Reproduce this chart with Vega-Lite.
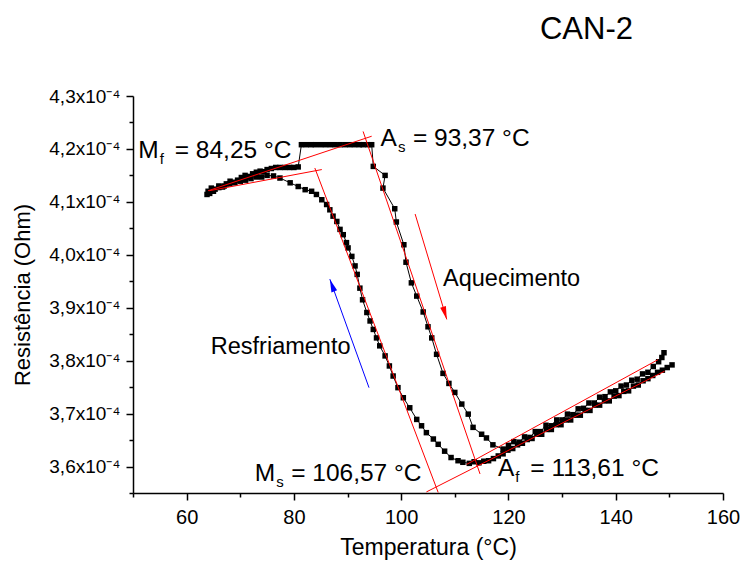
{
  "$schema": "https://vega.github.io/schema/vega-lite/v6.json",
  "width": 590,
  "height": 397,
  "autosize": {"type": "none"},
  "padding": {"left": 133, "top": 96, "right": 18, "bottom": 72},
  "background": "white",
  "config": {"view": {"stroke": null}, "font": "Liberation Sans"},
  "title": {"text": "CAN-2", "anchor": "end", "frame": "group", "dx": -90, "fontSize": 31, "fontWeight": "normal", "color": "black", "offset": 17, "baseline": "alphabetic", "font": "Liberation Sans"},
  "datasets": {
    "curves": [
      {"s":"aq","i":0,"t":64.0,"r":4.120e-4},{"s":"aq","i":1,"t":64.6,"r":4.126e-4},{"s":"aq","i":2,"t":65.3,"r":4.124e-4},{"s":"aq","i":3,"t":66.0,"r":4.130e-4},
      {"s":"aq","i":4,"t":66.7,"r":4.128e-4},{"s":"aq","i":5,"t":67.4,"r":4.134e-4},{"s":"aq","i":6,"t":68.1,"r":4.139e-4},{"s":"aq","i":7,"t":68.8,"r":4.136e-4},
      {"s":"aq","i":8,"t":69.5,"r":4.141e-4},{"s":"aq","i":9,"t":70.2,"r":4.146e-4},{"s":"aq","i":10,"t":70.9,"r":4.150e-4},{"s":"aq","i":11,"t":71.6,"r":4.148e-4},
      {"s":"aq","i":12,"t":72.3,"r":4.153e-4},{"s":"aq","i":13,"t":73.0,"r":4.156e-4},{"s":"aq","i":14,"t":73.7,"r":4.158e-4},{"s":"aq","i":15,"t":74.4,"r":4.157e-4},
      {"s":"aq","i":16,"t":75.0,"r":4.161e-4},{"s":"aq","i":17,"t":75.8,"r":4.163e-4},{"s":"aq","i":18,"t":76.6,"r":4.165e-4},{"s":"aq","i":19,"t":77.4,"r":4.165e-4},
      {"s":"aq","i":20,"t":78.3,"r":4.165e-4},{"s":"aq","i":21,"t":79.2,"r":4.165e-4},{"s":"aq","i":22,"t":80.0,"r":4.165e-4},{"s":"aq","i":23,"t":80.8,"r":4.166e-4},
      {"s":"aq","i":24,"t":81.4,"r":4.208e-4},{"s":"aq","i":25,"t":82.3,"r":4.208e-4},{"s":"aq","i":26,"t":83.2,"r":4.208e-4},{"s":"aq","i":27,"t":84.0,"r":4.208e-4},
      {"s":"aq","i":28,"t":85.0,"r":4.208e-4},{"s":"aq","i":29,"t":85.9,"r":4.208e-4},{"s":"aq","i":30,"t":86.8,"r":4.208e-4},{"s":"aq","i":31,"t":87.7,"r":4.208e-4},
      {"s":"aq","i":32,"t":88.6,"r":4.208e-4},{"s":"aq","i":33,"t":89.5,"r":4.208e-4},{"s":"aq","i":34,"t":90.4,"r":4.208e-4},{"s":"aq","i":35,"t":91.3,"r":4.208e-4},
      {"s":"aq","i":36,"t":92.2,"r":4.208e-4},{"s":"aq","i":37,"t":92.9,"r":4.208e-4},{"s":"aq","i":38,"t":93.8,"r":4.208e-4},{"s":"aq","i":39,"t":94.5,"r":4.208e-4},
      {"s":"aq","i":40,"t":94.8,"r":4.167e-4},{"s":"aq","i":41,"t":97.0,"r":4.150e-4},{"s":"aq","i":42,"t":96.6,"r":4.126e-4},{"s":"aq","i":43,"t":98.8,"r":4.087e-4},
      {"s":"aq","i":44,"t":99.1,"r":4.062e-4},{"s":"aq","i":45,"t":100.5,"r":4.019e-4},{"s":"aq","i":46,"t":100.9,"r":3.986e-4},{"s":"aq","i":47,"t":101.9,"r":3.947e-4},
      {"s":"aq","i":48,"t":102.9,"r":3.922e-4},{"s":"aq","i":49,"t":104.1,"r":3.892e-4},{"s":"aq","i":50,"t":105.0,"r":3.864e-4},{"s":"aq","i":51,"t":105.7,"r":3.843e-4},
      {"s":"aq","i":52,"t":106.6,"r":3.812e-4},{"s":"aq","i":53,"t":107.8,"r":3.776e-4},{"s":"aq","i":54,"t":108.9,"r":3.757e-4},{"s":"aq","i":55,"t":110.0,"r":3.740e-4},
      {"s":"aq","i":56,"t":111.3,"r":3.718e-4},{"s":"aq","i":57,"t":112.5,"r":3.699e-4},{"s":"aq","i":58,"t":113.4,"r":3.674e-4},{"s":"aq","i":59,"t":115.0,"r":3.661e-4},
      {"s":"aq","i":60,"t":115.9,"r":3.654e-4},{"s":"aq","i":61,"t":117.1,"r":3.641e-4},{"s":"aq","i":62,"t":119.0,"r":3.633e-4},{"s":"aq","i":63,"t":120.0,"r":3.640e-4},
      {"s":"aq","i":64,"t":121.0,"r":3.647e-4},{"s":"aq","i":65,"t":122.0,"r":3.646e-4},{"s":"aq","i":66,"t":123.0,"r":3.656e-4},{"s":"aq","i":67,"t":124.0,"r":3.655e-4},
      {"s":"aq","i":68,"t":125.0,"r":3.666e-4},{"s":"aq","i":69,"t":126.0,"r":3.666e-4},{"s":"aq","i":70,"t":127.0,"r":3.678e-4},{"s":"aq","i":71,"t":128.0,"r":3.677e-4},
      {"s":"aq","i":72,"t":129.0,"r":3.688e-4},{"s":"aq","i":73,"t":130.0,"r":3.688e-4},{"s":"aq","i":74,"t":131.0,"r":3.699e-4},{"s":"aq","i":75,"t":132.0,"r":3.698e-4},
      {"s":"aq","i":76,"t":133.0,"r":3.709e-4},{"s":"aq","i":77,"t":134.0,"r":3.710e-4},{"s":"aq","i":78,"t":135.0,"r":3.720e-4},{"s":"aq","i":79,"t":136.0,"r":3.720e-4},
      {"s":"aq","i":80,"t":137.0,"r":3.731e-4},{"s":"aq","i":81,"t":138.0,"r":3.732e-4},{"s":"aq","i":82,"t":139.0,"r":3.741e-4},{"s":"aq","i":83,"t":140.0,"r":3.743e-4},
      {"s":"aq","i":84,"t":141.0,"r":3.752e-4},{"s":"aq","i":85,"t":142.0,"r":3.754e-4},{"s":"aq","i":86,"t":143.0,"r":3.763e-4},{"s":"aq","i":87,"t":144.0,"r":3.765e-4},
      {"s":"aq","i":88,"t":145.0,"r":3.775e-4},{"s":"aq","i":89,"t":146.0,"r":3.778e-4},{"s":"aq","i":90,"t":147.0,"r":3.789e-4},{"s":"aq","i":91,"t":148.0,"r":3.798e-4},
      {"s":"aq","i":92,"t":148.6,"r":3.806e-4},{"s":"aq","i":93,"t":149.0,"r":3.815e-4},
      {"s":"rf","i":0,"t":150.5,"r":3.792e-4},{"s":"rf","i":1,"t":149.6,"r":3.787e-4},{"s":"rf","i":2,"t":148.7,"r":3.782e-4},{"s":"rf","i":3,"t":147.8,"r":3.778e-4},
      {"s":"rf","i":4,"t":146.9,"r":3.772e-4},{"s":"rf","i":5,"t":146.0,"r":3.766e-4},{"s":"rf","i":6,"t":145.1,"r":3.762e-4},{"s":"rf","i":7,"t":144.2,"r":3.754e-4},
      {"s":"rf","i":8,"t":143.3,"r":3.752e-4},{"s":"rf","i":9,"t":142.4,"r":3.743e-4},{"s":"rf","i":10,"t":141.5,"r":3.742e-4},{"s":"rf","i":11,"t":140.6,"r":3.734e-4},
      {"s":"rf","i":12,"t":139.7,"r":3.733e-4},{"s":"rf","i":13,"t":138.8,"r":3.724e-4},{"s":"rf","i":14,"t":137.9,"r":3.724e-4},{"s":"rf","i":15,"t":137.0,"r":3.716e-4},
      {"s":"rf","i":16,"t":136.1,"r":3.716e-4},{"s":"rf","i":17,"t":135.2,"r":3.706e-4},{"s":"rf","i":18,"t":134.3,"r":3.706e-4},{"s":"rf","i":19,"t":133.4,"r":3.697e-4},
      {"s":"rf","i":20,"t":132.5,"r":3.697e-4},{"s":"rf","i":21,"t":131.6,"r":3.688e-4},{"s":"rf","i":22,"t":130.7,"r":3.688e-4},{"s":"rf","i":23,"t":129.8,"r":3.679e-4},
      {"s":"rf","i":24,"t":128.9,"r":3.679e-4},{"s":"rf","i":25,"t":128.0,"r":3.670e-4},{"s":"rf","i":26,"t":127.1,"r":3.670e-4},{"s":"rf","i":27,"t":126.2,"r":3.661e-4},
      {"s":"rf","i":28,"t":125.3,"r":3.661e-4},{"s":"rf","i":29,"t":124.4,"r":3.653e-4},{"s":"rf","i":30,"t":123.5,"r":3.651e-4},{"s":"rf","i":31,"t":122.6,"r":3.644e-4},
      {"s":"rf","i":32,"t":121.7,"r":3.641e-4},{"s":"rf","i":33,"t":120.8,"r":3.634e-4},{"s":"rf","i":34,"t":119.9,"r":3.631e-4},{"s":"rf","i":35,"t":119.0,"r":3.624e-4},
      {"s":"rf","i":36,"t":118.1,"r":3.620e-4},{"s":"rf","i":37,"t":117.2,"r":3.615e-4},{"s":"rf","i":38,"t":116.3,"r":3.611e-4},{"s":"rf","i":39,"t":115.4,"r":3.610e-4},
      {"s":"rf","i":40,"t":114.5,"r":3.607e-4},{"s":"rf","i":41,"t":113.6,"r":3.609e-4},{"s":"rf","i":42,"t":112.7,"r":3.606e-4},{"s":"rf","i":43,"t":111.5,"r":3.608e-4},
      {"s":"rf","i":44,"t":110.6,"r":3.611e-4},{"s":"rf","i":45,"t":109.3,"r":3.617e-4},{"s":"rf","i":46,"t":108.1,"r":3.629e-4},{"s":"rf","i":47,"t":106.9,"r":3.642e-4},
      {"s":"rf","i":48,"t":106.0,"r":3.652e-4},{"s":"rf","i":49,"t":104.7,"r":3.664e-4},{"s":"rf","i":50,"t":103.8,"r":3.677e-4},{"s":"rf","i":51,"t":102.9,"r":3.689e-4},
      {"s":"rf","i":52,"t":101.6,"r":3.711e-4},{"s":"rf","i":53,"t":100.4,"r":3.730e-4},{"s":"rf","i":54,"t":99.4,"r":3.749e-4},{"s":"rf","i":55,"t":98.5,"r":3.771e-4},
      {"s":"rf","i":56,"t":97.8,"r":3.790e-4},{"s":"rf","i":57,"t":97.0,"r":3.809e-4},{"s":"rf","i":58,"t":96.0,"r":3.828e-4},{"s":"rf","i":59,"t":95.4,"r":3.843e-4},
      {"s":"rf","i":60,"t":94.8,"r":3.859e-4},{"s":"rf","i":61,"t":94.2,"r":3.875e-4},{"s":"rf","i":62,"t":93.6,"r":3.891e-4},{"s":"rf","i":63,"t":92.8,"r":3.915e-4},
      {"s":"rf","i":64,"t":92.3,"r":3.937e-4},{"s":"rf","i":65,"t":91.8,"r":3.963e-4},{"s":"rf","i":66,"t":91.4,"r":3.979e-4},{"s":"rf","i":67,"t":90.8,"r":3.997e-4},
      {"s":"rf","i":68,"t":90.1,"r":4.013e-4},{"s":"rf","i":69,"t":89.8,"r":4.023e-4},{"s":"rf","i":70,"t":89.2,"r":4.038e-4},{"s":"rf","i":71,"t":88.6,"r":4.048e-4},
      {"s":"rf","i":72,"t":88.0,"r":4.063e-4},{"s":"rf","i":73,"t":87.3,"r":4.073e-4},{"s":"rf","i":74,"t":86.7,"r":4.085e-4},{"s":"rf","i":75,"t":86.1,"r":4.095e-4},
      {"s":"rf","i":76,"t":85.2,"r":4.104e-4},{"s":"rf","i":77,"t":84.2,"r":4.114e-4},{"s":"rf","i":78,"t":83.3,"r":4.120e-4},{"s":"rf","i":79,"t":82.1,"r":4.123e-4},
      {"s":"rf","i":80,"t":80.8,"r":4.129e-4},{"s":"rf","i":81,"t":79.3,"r":4.136e-4},{"s":"rf","i":82,"t":77.4,"r":4.145e-4},{"s":"rf","i":83,"t":76.2,"r":4.149e-4},
      {"s":"rf","i":84,"t":75.0,"r":4.150e-4},{"s":"rf","i":85,"t":74.0,"r":4.147e-4},{"s":"rf","i":86,"t":73.0,"r":4.147e-4},{"s":"rf","i":87,"t":72.0,"r":4.144e-4},
      {"s":"rf","i":88,"t":71.0,"r":4.141e-4},{"s":"rf","i":89,"t":70.0,"r":4.139e-4},{"s":"rf","i":90,"t":69.0,"r":4.137e-4},{"s":"rf","i":91,"t":68.0,"r":4.134e-4},
      {"s":"rf","i":92,"t":67.0,"r":4.130e-4},{"s":"rf","i":93,"t":66.0,"r":4.127e-4},{"s":"rf","i":94,"t":65.0,"r":4.120e-4},{"s":"rf","i":95,"t":64.3,"r":4.116e-4},
      {"s":"rf","i":96,"t":63.8,"r":4.114e-4}
    ],
    "tangents": [
      {"t":64.0,"r":4.121e-4,"t2":94.5,"r2":4.224e-4},
      {"t":64.2,"r":4.121e-4,"t2":85.2,"r2":4.161e-4},
      {"t":83.9,"r":4.164e-4,"t2":106.9,"r2":3.551e-4},
      {"t":92.9,"r":4.233e-4,"t2":114.7,"r2":3.586e-4},
      {"t":112.2,"r":3.604e-4,"t2":147.9,"r2":3.802e-4},
      {"t":104.7,"r":3.552e-4,"t2":149.1,"r2":3.780e-4}
    ],
    "arrows": [
      {"kind":"Aquecimento","t":102.6,"r":4.077e-4,"t2":108.5,"r2":3.878e-4},
      {"kind":"Resfriamento","t":94.0,"r":3.749e-4,"t2":86.7,"r2":3.954e-4}
    ],
    "heads": [
      {"kind":"Aquecimento","t":108.5,"r":3.878e-4},
      {"kind":"Resfriamento","t":86.7,"r":3.954e-4}
    ],
    "notes": [
      {"name":"M","sub":"f","rest":"= 84,25 °C","t":54.8,"r":4.183e-4},
      {"name":"A","sub":"s","rest":"= 93,37 °C","t":99.2,"r":4.205e-4},
      {"name":"M","sub":"s","rest":"= 106,57 °C","t":76.5,"r":3.573e-4},
      {"name":"A","sub":"f","rest":"= 113,61 °C","t":121.1,"r":3.582e-4}
    ],
    "labels": [
      {"text":"Aquecimento","t":107.8,"r":3.942e-4},
      {"text":"Resfriamento","t":64.5,"r":3.812e-4}
    ]
  },
  "encoding": {
    "x": {"field": "t", "type": "quantitative",
      "scale": {"domain": [50, 160], "nice": false, "zero": false},
      "axis": {"title": "Temperatura (°C)", "values": [50,60,70,80,90,100,110,120,130,140,150,160],
        "labelExpr": "datum.value % 20 == 0 ? datum.label : ''",
        "tickSize": {"condition": {"test": "datum.value % 20 == 0", "value": 7}, "value": 4},
        "grid": false, "domainColor": "black", "domainWidth": 1.5, "tickColor": "black", "tickWidth": 1.5,
        "labelFont": "Liberation Sans", "labelFontSize": 20, "labelColor": "black", "labelPadding": 7,
        "labelFlush": false, "labelOverlap": false,
        "titleFont": "Liberation Sans", "titleFontSize": 23, "titleFontWeight": "normal", "titleColor": "black", "titlePadding": 9}},
    "y": {"field": "r", "type": "quantitative",
      "scale": {"domain": [3.55e-4, 4.3e-4], "nice": false, "zero": false},
      "axis": {"title": "Resistência (Ohm)", "values": [3.55e-4,3.6e-4,3.65e-4,3.7e-4,3.75e-4,3.8e-4,3.85e-4,3.9e-4,3.95e-4,4.0e-4,4.05e-4,4.1e-4,4.15e-4,4.2e-4,4.25e-4,4.3e-4],
        "labelExpr": "abs(datum.value*1e5 - round(datum.value*1e5)) < 0.01 ? replace(format(datum.value*1e4, '.1f'), '.', ',') + 'x10⁻⁴' : ''",
        "tickSize": {"condition": {"test": "abs(datum.value*1e5 - round(datum.value*1e5)) < 0.01", "value": 7}, "value": 4},
        "grid": false, "domainColor": "black", "domainWidth": 1.5, "tickColor": "black", "tickWidth": 1.5,
        "labelFont": "Liberation Sans", "labelFontSize": 19, "labelColor": "black", "labelPadding": 6,
        "labelFlush": false, "labelOverlap": false,
        "titleFont": "Liberation Sans", "titleFontSize": 22, "titleFontWeight": "normal", "titleColor": "black", "titlePadding": 14}}
  },
  "layer": [
    {
      "data": {"name": "curves"},
      "mark": {"type": "line", "color": "black", "strokeWidth": 1},
      "encoding": {
        "detail": {"field": "s", "type": "nominal"},
        "order": {"field": "i", "type": "quantitative"}
      }
    },
    {
      "data": {"name": "curves"},
      "mark": {"type": "point", "shape": "square", "filled": true, "size": 30, "color": "black", "opacity": 1}
    },
    {
      "data": {"name": "tangents"},
      "mark": {"type": "rule", "color": "#ff0000", "strokeWidth": 1},
      "encoding": {
        "x2": {"field": "t2"},
        "y2": {"field": "r2"}
      }
    },
    {
      "data": {"name": "arrows"},
      "mark": {"type": "rule", "strokeWidth": 1},
      "encoding": {
        "x2": {"field": "t2"},
        "y2": {"field": "r2"},
        "color": {"field": "kind", "type": "nominal", "scale": {"domain": ["Aquecimento", "Resfriamento"], "range": ["#ff0000", "#0000ff"]}, "legend": null}
      }
    },
    {
      "data": {"name": "heads"},
      "transform": [{"filter": "datum.kind == 'Aquecimento'"}],
      "mark": {"type": "point", "shape": "M0,0L0.3,1.3L-0.3,1.3Z", "filled": true, "size": 400, "color": "#ff0000", "opacity": 1, "angle": 163.3, "strokeWidth": 0}
    },
    {
      "data": {"name": "heads"},
      "transform": [{"filter": "datum.kind == 'Resfriamento'"}],
      "mark": {"type": "point", "shape": "M0,0L0.3,1.3L-0.3,1.3Z", "filled": true, "size": 400, "color": "#0000ff", "opacity": 1, "angle": 340.1, "strokeWidth": 0}
    },
    {
      "data": {"name": "notes"},
      "mark": {"type": "text", "align": "right", "baseline": "alphabetic", "fontSize": 24.5, "font": "Liberation Sans", "color": "black"},
      "encoding": {"text": {"field": "name"}}
    },
    {
      "data": {"name": "notes"},
      "mark": {"type": "text", "align": "left", "baseline": "alphabetic", "fontSize": 15, "dx": 1, "dy": 6, "font": "Liberation Sans", "color": "black"},
      "encoding": {"text": {"field": "sub"}}
    },
    {
      "data": {"name": "notes"},
      "mark": {"type": "text", "align": "left", "baseline": "alphabetic", "fontSize": 24.5, "dx": 16, "font": "Liberation Sans", "color": "black"},
      "encoding": {"text": {"field": "rest"}}
    },
    {
      "data": {"name": "labels"},
      "mark": {"type": "text", "align": "left", "baseline": "alphabetic", "fontSize": 23.5, "font": "Liberation Sans", "color": "black"},
      "encoding": {"text": {"field": "text"}}
    }
  ]
}
